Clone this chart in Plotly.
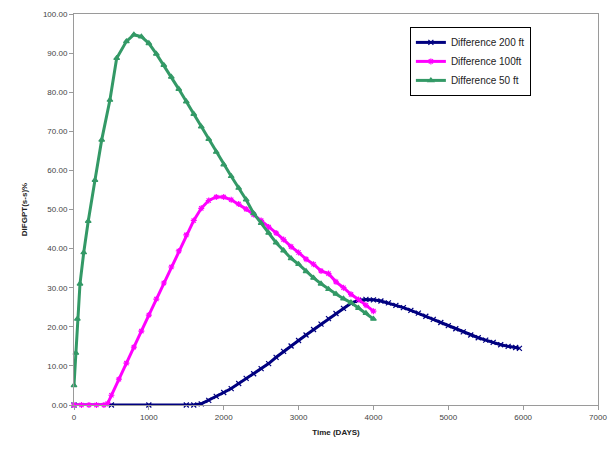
import plotly.graph_objects as go

# Difference 200 ft
t_200 = [0, 500, 1000, 1500, 1600, 1700, 1800, 1900, 2000, 2100, 2200, 2300, 2400, 2500,
         2600, 2700, 2800, 2900, 3000, 3100, 3200, 3300, 3400, 3500, 3600, 3700, 3800,
         3900, 4000, 4100, 4200, 4300, 4400, 4500, 4600, 4700, 4800, 4900, 5000, 5100,
         5200, 5300, 5400, 5500, 5600, 5700, 5800, 5900, 5950]
v_200 = [0, 0, 0, 0, 0, 0.3, 1.2, 2.2, 3.2, 4.2, 5.5, 6.8, 8.0, 9.3,
         10.6, 12.2, 13.7, 15.1, 16.5, 17.9, 19.3, 20.7, 22.1, 23.4, 24.7, 26.0, 26.8,
         27.0, 26.9, 26.6, 26.1, 25.5, 24.9, 24.2, 23.5, 22.7, 21.9, 21.1, 20.3, 19.5,
         18.7, 17.9, 17.2, 16.6, 16.0, 15.4, 15.0, 14.7, 14.5]

# Difference 100 ft
t_100 = [0, 100, 200, 300, 400, 450, 500, 600, 700, 800, 900, 1000, 1100, 1200, 1300,
         1400, 1500, 1600, 1700, 1800, 1900, 2000, 2100, 2200, 2300, 2400, 2500, 2600,
         2700, 2800, 2900, 3000, 3100, 3200, 3300, 3400, 3500, 3600, 3700, 3800, 3900, 4000]
v_100 = [0, 0, 0, 0, 0, 0.4, 2.5, 6.6, 10.7, 14.8, 18.9, 23.0, 27.1, 31.2, 35.3,
         39.4, 43.5, 47.2, 50.3, 52.3, 53.2, 53.2, 52.5, 51.4, 50.1, 48.7, 47.2, 45.5,
         44.0, 42.3, 40.5, 39.0, 37.3, 36.0, 34.3, 33.6, 31.5, 30.0, 28.3, 27.0, 25.5, 24.0]

# Difference 50 ft
t_50 = [0, 25, 45, 80, 130, 190, 280, 370, 480, 570, 700, 800, 900, 1000, 1100, 1200,
        1300, 1400, 1500, 1600, 1700, 1800, 1900, 2000, 2100, 2200, 2300, 2400, 2500,
        2600, 2700, 2800, 2900, 3000, 3100, 3200, 3300, 3400, 3500, 3600, 3700, 3800,
        3900, 4000]
v_50 = [5.0, 13.3, 22.0, 31.0, 39.0, 47.0, 57.5, 67.8, 78.0, 88.7, 93.0, 94.7, 94.2, 92.5,
        89.8, 86.9, 83.9, 80.8, 77.6, 74.4, 71.2, 68.0, 64.7, 61.5, 58.5, 55.5, 52.5,
        49.0, 46.5, 44.0, 41.5, 39.5, 37.5, 36.0, 34.2, 32.5, 31.0, 29.6, 28.4, 27.2,
        26.2, 24.8, 23.5, 22.0]

series = [
    ("Difference 200 ft", t_200, v_200, "#000080", "x-thin-open"),
    ("Difference 100ft", t_100, v_100, "#FF00FF", "asterisk-open"),
    ("Difference 50 ft", t_50, v_50, "#339966", "triangle-up"),
]

fig = go.Figure()
for name, t, v, color, sym in series:
    fig.add_trace(go.Scatter(
        x=t, y=v, name=name, mode="lines+markers",
        line=dict(color=color, width=3),
        marker=dict(symbol=sym, size=5, color=color, line=dict(color=color, width=1.2)),
        cliponaxis=False,
    ))

axis_font = dict(family="Arial, Liberation Sans, sans-serif", size=8, color="#444444")

fig.update_layout(
    width=612, height=455,
    margin=dict(l=74, r=14, t=14, b=50),
    paper_bgcolor="white", plot_bgcolor="white",
    font=axis_font,
    showlegend=True,
    legend=dict(
        x=0.641, y=0.967, xanchor="left", yanchor="top",
        bordercolor="#000000", borderwidth=1, bgcolor="white",
        font=dict(family="Arial, Liberation Sans, sans-serif", size=10, color="#222222"),
        tracegroupgap=0, itemwidth=30,
    ),
    xaxis=dict(
        range=[0, 7000], dtick=1000, tick0=0, automargin=False,
        showgrid=False, zeroline=False,
        showline=True, linecolor="#9a9a9a", linewidth=1, mirror=True,
        ticks="outside", ticklen=4, tickcolor="#9a9a9a",
        title=dict(text="<b>Time (DAYS)</b>", font=dict(size=8, color="#222222"), standoff=8),
    ),
    yaxis=dict(
        range=[0, 100], dtick=10, tick0=0, tickformat=".2f", automargin=False,
        showgrid=False, zeroline=False,
        showline=True, linecolor="#9a9a9a", linewidth=1, mirror=True,
        ticks="outside", ticklen=4, tickcolor="#9a9a9a",
        title=dict(text="<b>DIFGPT(s-s)%</b>", font=dict(size=8, color="#222222"), standoff=14),
    ),
)

fig.write_html("out.html", config={"displayModeBar": False},
               post_script="document.body.style.margin='0';")
